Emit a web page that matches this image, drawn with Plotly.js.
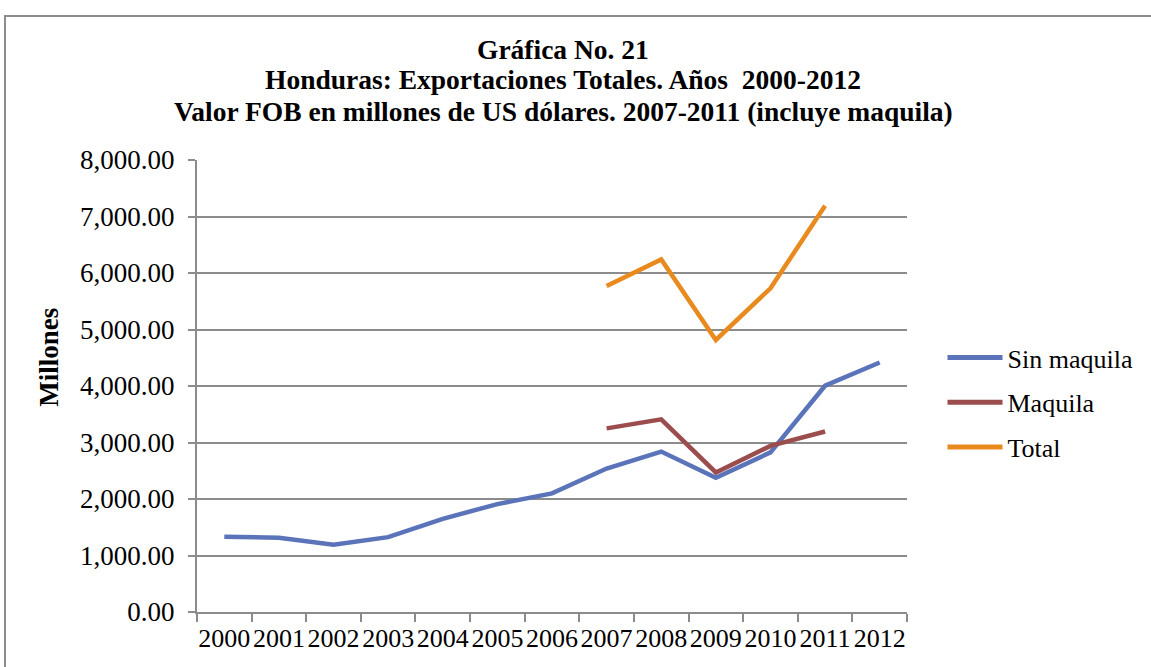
<!DOCTYPE html>
<html><head><meta charset="utf-8">
<script src="https://cdn.plot.ly/plotly-3.0.1.min.js"></script>
<style>
html,body{margin:0;background:#fff;overflow:hidden;width:1151px;height:667px;}
#frame{position:absolute;left:4px;top:15px;width:1250px;height:760px;border:2px solid #8c8c8c;}
#chart{position:absolute;left:0;top:0;width:1151px;height:667px;}
</style></head>
<body><div id="frame"></div><div id="chart"></div>
<script>
const years = ["2000","2001","2002","2003","2004","2005","2006","2007","2008","2009","2010","2011","2012"];
const sinMaquila = [1330,1315,1190,1325,1650,1910,2100,2540,2840,2375,2825,4005,4415];
const maquila = [null,null,null,null,null,null,null,3250,3410,2470,2940,3195,null];
const total = [null,null,null,null,null,null,null,5770,6240,4815,5730,7190,null];
const titleLines = ["Gráfica No. 21","Honduras: Exportaciones Totales. Años  2000-2012","Valor FOB en millones de US dólares. 2007-2011 (incluye maquila)"];
const yTitle = "Millones";

const font = "Liberation Serif";
const traces = [
  {x: years, y: sinMaquila, name: "Sin maquila", legendgroup: "a", type: "scatter", mode: "lines", line: {color: "#5B74B9", width: 4.5}},
  {x: years, y: maquila, name: "Maquila", legendgroup: "b", type: "scatter", mode: "lines", line: {color: "#9B4D4D", width: 4.5}},
  {x: years, y: total, name: "Total", legendgroup: "c", type: "scatter", mode: "lines", line: {color: "#E98A1E", width: 4.5}}
];
const titleY = [1.2434, 1.177, 1.108];
const annotations = titleLines.map((t, i) => ({
  text: "<b>" + t + "</b>", xref: "paper", yref: "paper", x: 0.516, y: titleY[i],
  xanchor: "center", yanchor: "middle", showarrow: false, font: {family: font, size: 27.5, color: "#000"}
}));
annotations.push({text: "<b>" + yTitle + "</b>", xref: "paper", yref: "paper", x: -0.209, y: 0.564,
  textangle: -90, xanchor: "center", yanchor: "middle", showarrow: false, font: {family: font, size: 27, color: "#000"}});
const layout = {
  width: 1151, height: 667,
  margin: {l: 197, r: 241, t: 160, b: 55},
  paper_bgcolor: "rgba(0,0,0,0)", plot_bgcolor: "rgba(0,0,0,0)",
  font: {family: font, size: 27, color: "#000"},
  xaxis: {type: "category", range: [-0.5, years.length - 0.5], tickson: "boundaries", ticks: "outside", ticklen: 8, tickwidth: 2, tickcolor: "#8c8c8c",
    showline: true, linecolor: "#8c8c8c", linewidth: 2, showgrid: false, tickfont: {family: font, size: 26},
    tickangle: 0, ticklabelstandoff: 2, fixedrange: true},
  yaxis: {range: [0, 8000], dtick: 1000, tickformat: ",.2f", showgrid: true, gridcolor: "#8c8c8c", gridwidth: 2,
    showline: true, linecolor: "#8c8c8c", linewidth: 2, ticks: "outside", ticklen: 7, tickwidth: 2, tickcolor: "#8c8c8c",
    zeroline: false, tickfont: {family: font, size: 27}, ticklabelstandoff: 8, fixedrange: true},
  showlegend: true,
  legend: {x: 1.05, y: 0.615, xanchor: "left", yanchor: "top", font: {family: font, size: 26},
    tracegroupgap: 8, itemwidth: 55, itemsizing: "constant"},
  annotations: annotations
};
Plotly.newPlot("chart", traces, layout, {displayModeBar: false, staticPlot: true});
</script></body></html>
